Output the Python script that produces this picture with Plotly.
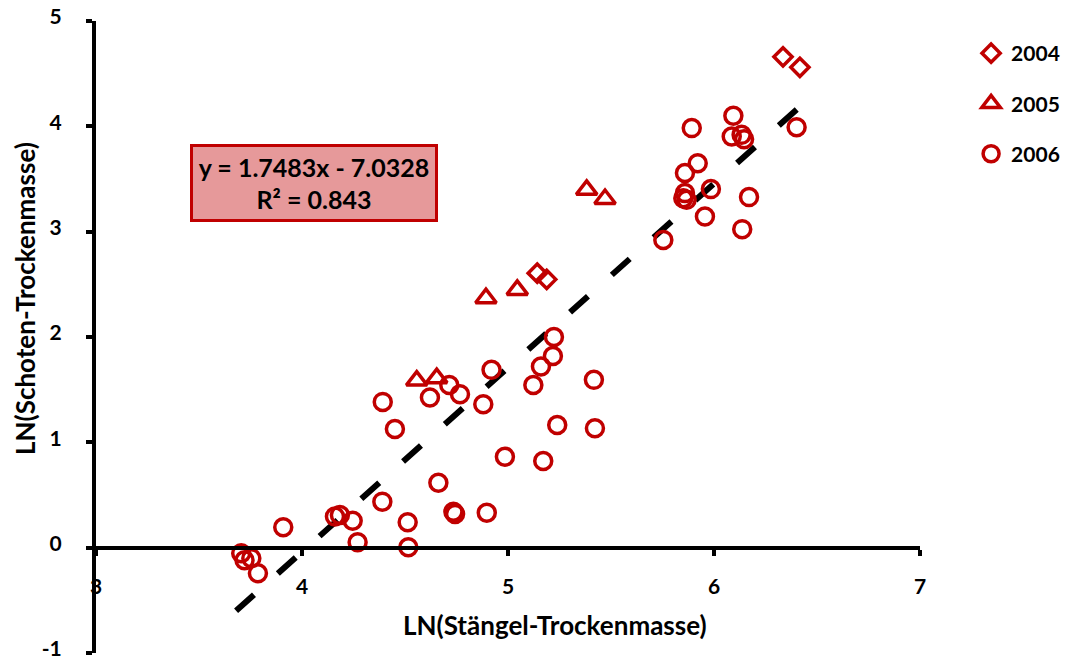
import plotly.graph_objects as go

# ---- data ----
x2004 = [6.335, 6.417, 5.142, 5.188]
y2004 = [4.66, 4.56, 2.606, 2.547]

x2005 = [5.382, 5.471, 4.893, 5.045, 4.557, 4.654]
y2005 = [3.397, 3.310, 2.368, 2.447, 1.586, 1.609]

x2006 = [6.094, 6.086, 6.134, 6.146, 5.892, 6.401, 5.921, 5.859, 5.985, 5.859,
         5.851, 5.867, 6.170, 5.956, 6.137, 5.754, 5.223, 5.218, 5.160, 5.123,
         5.417, 5.239, 5.422, 5.171, 4.985, 4.920, 4.880, 4.767, 4.715, 4.621,
         4.392, 4.451, 4.662, 4.390, 4.735, 4.743, 4.897, 4.184, 4.160, 4.246,
         4.513, 3.909, 4.270, 4.516, 3.705, 3.721, 3.754, 3.786]
y2006 = [4.100, 3.903, 3.919, 3.878, 3.983, 3.992, 3.650, 3.556, 3.404, 3.366,
         3.318, 3.302, 3.328, 3.143, 3.024, 2.922, 2.000, 1.820, 1.719, 1.545,
         1.593, 1.165, 1.134, 0.823, 0.864, 1.688, 1.362, 1.457, 1.545, 1.425,
         1.384, 1.127, 0.617, 0.437, 0.342, 0.320, 0.332, 0.311, 0.295, 0.256,
         0.241, 0.194, 0.051, 0.004, -0.053, -0.120, -0.100, -0.243]

slope = 1.7483
intercept = -7.0328
r2 = 0.843
trend_x = [3.68, 6.42]
trend_y = [slope * v + intercept for v in trend_x]

x_ticks = [3, 4, 5, 6, 7]
x_tick_labels = ["3", "4", "5", "6", "7"]
y_ticks = [-1, 0, 1, 2, 3, 4, 5]
y_tick_labels = ["-1", "0", "1", "2", "3", "4", "5"]

x_title = "LN(Stängel-Trockenmasse)"
y_title = "LN(Schoten-Trockenmasse)"

RED = "#C00000"
FONT = "Lato"
tickfont = dict(family=FONT, size=21, color="black", weight="bold")
titlefont = dict(family=FONT, size=26, color="black", weight="bold")

fig = go.Figure()

fig.add_trace(go.Scatter(
    x=trend_x, y=trend_y, mode="lines", showlegend=False, hoverinfo="skip",
    line=dict(color="black", width=6, dash="24px,32px")))

fig.add_trace(go.Scatter(
    x=x2004, y=y2004, mode="markers", name="2004", legendgroup="a",
    marker=dict(symbol="diamond-open", size=14, color=RED, line=dict(width=3.5, color=RED))))
fig.add_trace(go.Scatter(
    x=x2005, y=y2005, mode="markers", name="2005", legendgroup="b",
    marker=dict(symbol="triangle-up-open", size=18, color=RED, line=dict(width=3.5, color=RED))))
fig.add_trace(go.Scatter(
    x=x2006, y=y2006, mode="markers", name="2006", legendgroup="c",
    marker=dict(symbol="circle-open", size=17, color=RED, line=dict(width=3.5, color=RED))))

fig.add_annotation(
    x=4.058, y=3.464, xref="x", yref="y",
    text=f"y = {slope}x - {abs(intercept)}<br>R² = {r2}",
    showarrow=False, align="center",
    font=dict(family=FONT, size=25, color="black", weight="bold"),
    bgcolor="#E6999A", bordercolor=RED, borderwidth=3, borderpad=1,
    width=240, height=70)

# axis titles (placed like the original, off-centre)
fig.add_annotation(x=0.557, y=0.0443, xref="paper", yref="paper",
                   text=x_title, showarrow=False, font=titlefont,
                   xanchor="center", yanchor="middle")
fig.add_annotation(x=-0.0862, y=0.5617, xref="paper", yref="paper",
                   text=y_title, showarrow=False, font=titlefont, textangle=-90,
                   xanchor="center", yanchor="middle")

fig.update_layout(
    width=1069, height=661,
    margin=dict(l=96, r=149, t=21, b=8, autoexpand=False),
    plot_bgcolor="white", paper_bgcolor="white",
    font=dict(family=FONT, size=20, color="black", weight="bold"),
    legend=dict(x=1.062, y=0.981, xanchor="left", yanchor="top",
                traceorder="grouped", tracegroupgap=20,
                font=dict(family=FONT, size=21, color="black", weight="bold")),
    xaxis=dict(range=[3, 7], tickvals=x_ticks, ticktext=x_tick_labels,
               showgrid=False, zeroline=False,
               showline=True, linecolor="black", linewidth=4, automargin=False,
               ticks="outside", ticklen=6, tickwidth=4, tickcolor="black",
               tickfont=tickfont, ticklabelstandoff=13, ticklabeloverflow="allow",
               anchor="free", position=1/6),
    yaxis=dict(range=[-1, 5], tickvals=y_ticks, ticktext=y_tick_labels,
               showgrid=False, zeroline=False,
               showline=True, linecolor="black", linewidth=4, automargin=False,
               ticks="outside", ticklen=6, tickwidth=4, tickcolor="black",
               tickfont=tickfont, ticklabelstandoff=20, ticklabelshift=-4,
               ticklabeloverflow="allow"),
)

# remove the page's default 8px body margin so the figure fills the window exactly
fig.write_html("out.html",
               config={"displayModeBar": False},
               post_script="document.body.style.margin='0';document.body.style.overflow='hidden';")
